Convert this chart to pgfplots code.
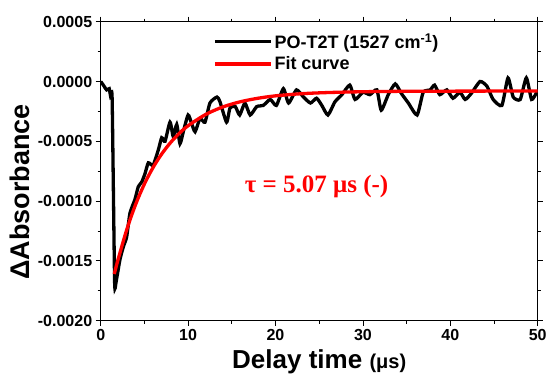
\documentclass[border=0pt]{standalone}
\usepackage{pgfplots}
\pgfplotsset{compat=1.18}
\usepackage{fontspec}
\setmainfont{Liberation Sans}
\newfontfamily\timesfont{Liberation Serif}
\definecolor{fitred}{RGB}{255,0,0}
\begin{document}
\begin{tikzpicture}
\useasboundingbox (0,0) rectangle (549bp,379bp);
\begin{axis}[
  at={(100.7bp,58.3bp)}, anchor=south west,
  scale only axis, width=437bp, height=299bp,
  xmin=0, xmax=50, ymin=-0.002, ymax=0.0005,
  xtick={0,10,20,30,40,50},
  xticklabels={0,10,20,30,40,50},
  ytick={-0.002,-0.0015,-0.001,-0.0005,0,0.0005},
  yticklabels={-0.0020,-0.0015,-0.0010,-0.0005,0.0000,0.0005},
  scaled y ticks=false, scaled x ticks=false,
  minor x tick num=1, minor y tick num=1,
  tick align=outside,
  major tick length=5bp, minor tick length=3bp,
  every tick/.style={black, line width=0.8bp},
  axis line style={line width=0.8bp},
  tick label style={font=\fontsize{16bp}{18bp}\selectfont\bfseries},
  xlabel={\fontsize{26bp}{30bp}\selectfont\bfseries Delay time {\fontsize{20bp}{22bp}\selectfont(μs)}},
  ylabel={\fontsize{27bp}{30bp}\selectfont\bfseries ΔAbsorbance},
  xlabel style={at={(axis description cs:0.5,-0.138)}, anchor=center},
  ylabel style={at={(axis description cs:-0.185,0.43)}, anchor=center, rotate=0},
  legend style={draw=none, fill=none, at={(0.257,0.968)}, anchor=north west,
    font=\fontsize{18bp}{21bp}\selectfont\bfseries, row sep=3bp, inner sep=0pt},
  legend cell align=left,
  legend image code/.code={\draw[#1] (0bp,0bp) -- (56bp,0bp);},
]
\addplot[black, line width=3.3bp, smooth, tension=0.35] coordinates {
(0,0) (0.3,-0.00003) (0.68,-0.00007) (0.98,-0.00006) (1.1,-0.00011) (1.3,-0.00012)
(1.45,-0.0009) (1.6,-0.0017) (1.75,-0.00168) (2.2,-0.00149) (2.6,-0.00138) (2.97,-0.0013)
(3.35,-0.0011) (3.9,-0.00099) (4.3,-0.00088) (4.7,-0.00084) (5.07,-0.00077) (5.45,-0.00068)
(6.0,-0.0007) (6.6,-0.00057) (6.98,-0.00047) (7.36,-0.0005) (7.93,-0.00034) (8.3,-0.00046)
(8.7,-0.00036) (9.07,-0.00052) (9.45,-0.00042) (10.0,-0.00028) (10.4,-0.00035) (10.8,-0.00042)
(11.36,-0.00031) (11.93,-0.00034) (12.5,-0.00018) (13.3,-0.00013) (13.65,-0.00017) (14.4,-0.00034)
(14.8,-0.00022) (15.4,-0.00021) (15.9,-0.00028) (16.5,-0.00018) (17.1,-0.00028) (17.85,-0.00021)
(18.6,-0.0002) (19.4,-0.00015) (20.1,-0.0002) (20.9,-0.00006) (21.5,-0.00018) (22.4,-0.00007)
(23.2,-0.00013) (24.0,-0.00018) (24.7,-0.00014) (25.3,-0.0002) (26.0,-0.00028) (26.8,-0.00017)
(27.6,-0.00011) (28.5,-0.00003) (29.1,-0.00015) (30.0,-0.00009) (30.8,-0.00011) (31.6,-0.00007)
(32.1,-0.00024) (32.9,-0.00011) (33.7,-0.00002) (34.4,-0.0001) (35.2,-0.00018) (36.2,-0.00028)
(36.9,-0.00009) (37.7,-0.00007) (38.2,-0.00003) (38.8,-0.00011) (39.6,-0.00007) (40.3,-0.00014)
(41.1,-0.00009) (41.7,-0.00015) (42.4,-0.0001) (43.4,0.0) (44.2,-0.00004) (44.9,-0.00015)
(45.9,-0.0002) (46.6,0.00003) (47.2,-0.00013) (48.0,-0.00015) (48.7,0.00003) (49.3,-0.00015)
(49.9,-0.00009) (50,-0.0001)
};
\addlegendentry{PO-T2T (1527 cm\textsuperscript{-1})}
\addplot[fitred, line width=3.3bp, smooth] coordinates {
(1.55,-0.00161) (2,-0.001485) (3,-0.001234) (4,-0.001027) (5,-0.000857) (6,-0.000718)
(7,-0.000604) (8,-0.000510) (9,-0.000433) (10,-0.000370) (12,-0.000276) (14,-0.000212)
(16,-0.000169) (18,-0.000140) (20,-0.000120) (23,-0.000102) (26,-0.0000924) (30,-0.0000856)
(35,-0.0000818) (40,-0.0000808) (45,-0.0000802) (50,-0.00008)
};
\addlegendentry{Fit curve}
\node[text=fitred, font=\timesfont\fontsize{25bp}{28bp}\selectfont\bfseries] at (axis cs:24.7,-0.00088) {τ = 5.07 μs (-)};
\end{axis}
\end{tikzpicture}
\end{document}
